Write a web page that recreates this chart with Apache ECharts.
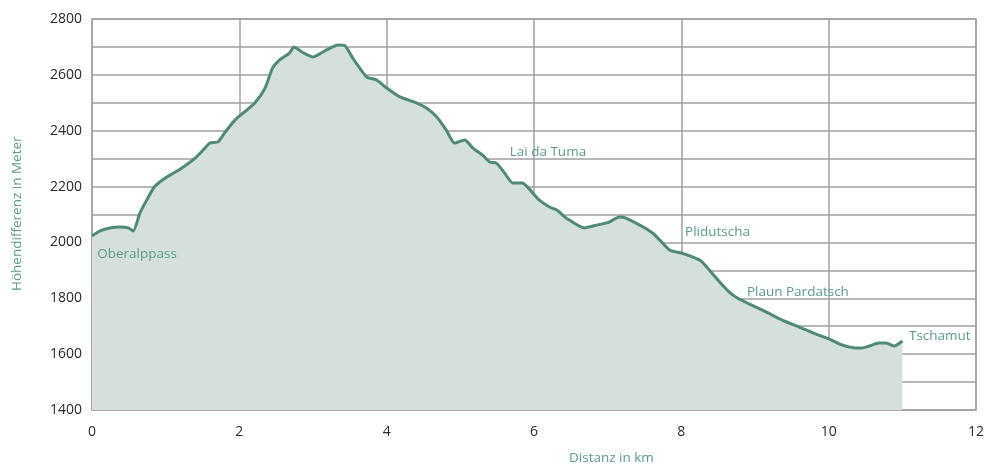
<!DOCTYPE html>
<html>
<head>
<meta charset="utf-8">
<script src="https://cdn.jsdelivr.net/npm/echarts@6/dist/echarts.min.js"></script>
<style>html,body{margin:0;padding:0;background:#fff;}#c{width:987px;height:468px;}</style>
</head>
<body>
<div id="c"></div>
<script>
var distKm = [0,0.11,0.24,0.38,0.49,0.56,0.65,0.75,0.85,0.99,1.13,1.26,1.40,1.51,1.60,1.71,1.80,1.94,2.07,2.21,2.35,2.45,2.54,2.68,2.74,2.85,3.00,3.09,3.19,3.34,3.43,3.54,3.73,3.86,4.00,4.18,4.41,4.54,4.68,4.81,4.92,5.06,5.17,5.30,5.40,5.49,5.60,5.71,5.84,5.91,6.07,6.21,6.31,6.44,6.68,6.85,7.02,7.16,7.25,7.61,7.84,8.00,8.15,8.27,8.38,8.52,8.65,8.76,8.92,9.15,9.37,9.60,9.83,10.01,10.18,10.37,10.45,10.55,10.68,10.78,10.89,11.0];
var elevM = [2023,2041,2052,2055,2052,2041,2105,2155,2200,2230,2252,2274,2302,2331,2356,2360,2392,2438,2467,2499,2553,2624,2652,2678,2700,2682,2664,2675,2690,2707,2705,2660,2592,2582,2553,2521,2499,2481,2449,2402,2356,2367,2338,2313,2288,2284,2249,2213,2213,2199,2152,2127,2116,2087,2052,2062,2073,2091,2087,2034,1973,1962,1948,1933,1901,1858,1822,1801,1780,1751,1722,1697,1672,1654,1633,1622,1622,1629,1640,1640,1629,1647];
var placeNames = ['Oberalppass','Lai da Tuma','Plidutscha','Plaun Pardatsch','Tschamut'];
var placeKm = [0.07,5.67,8.05,8.89,11.09];
var placeM = [1958,2324,2037,1822,1665];
var yTicks = [1400,1600,1800,2000,2200,2400,2600,2800];
var xTicks = [0,2,4,6,8,10,12];

var chart = echarts.init(document.getElementById('c'));
var data = distKm.map(function(d,i){return [d, elevM[i]];});
var marks = placeNames.map(function(n,i){
  return {coord:[placeKm[i], placeM[i]], value:n};
});
var green = '#4f8a72';
var txt = '#5b9b8d';
chart.setOption({
  animation:false,
  grid:{left:92,right:10,top:19,bottom:58,show:true,borderColor:'#a8a8a8',borderWidth:1.5},
  xAxis:{type:'value',min:0,max:12,interval:2,
    axisLine:{show:false},axisTick:{show:false},
    splitLine:{show:true,lineStyle:{color:'#a0a0a0',width:1.5}},
    axisLabel:{fontFamily:'Open Sans',fontSize:14,color:'#2a2a2a',margin:15,
      formatter:function(v){return xTicks.indexOf(v)>=0?String(v):'';}}},
  yAxis:{type:'value',min:1400,max:2800,interval:100,
    axisLine:{show:false},axisTick:{show:false},
    splitLine:{show:true,lineStyle:{color:'#a0a0a0',width:1.5}},
    axisLabel:{fontFamily:'Open Sans',fontSize:14,color:'#2a2a2a',margin:10,
      formatter:function(v){return yTicks.indexOf(v)>=0?String(v):'';}}},
  graphic:[
    {type:'text',left:569,top:451,style:{text:'Distanz in km',fontFamily:'Open Sans',fontSize:13.5,fill:txt}},
    {type:'text',x:10,y:291,rotation:Math.PI/2,style:{text:'Höhendifferenz in Meter',fontFamily:'Open Sans',fontSize:13.5,fill:txt}}
  ],
  series:[{
    type:'line',data:data,symbol:'none',smooth:0.2,
    lineStyle:{color:green,width:3},
    areaStyle:{color:'#d5dfdb',opacity:1},
    markPoint:{symbol:'circle',symbolSize:0,
      label:{show:true,position:'right',distance:0,formatter:'{c}',fontFamily:'Open Sans',fontSize:13.5,color:txt},
      data:marks}
  }]
});
</script>
</body>
</html>
